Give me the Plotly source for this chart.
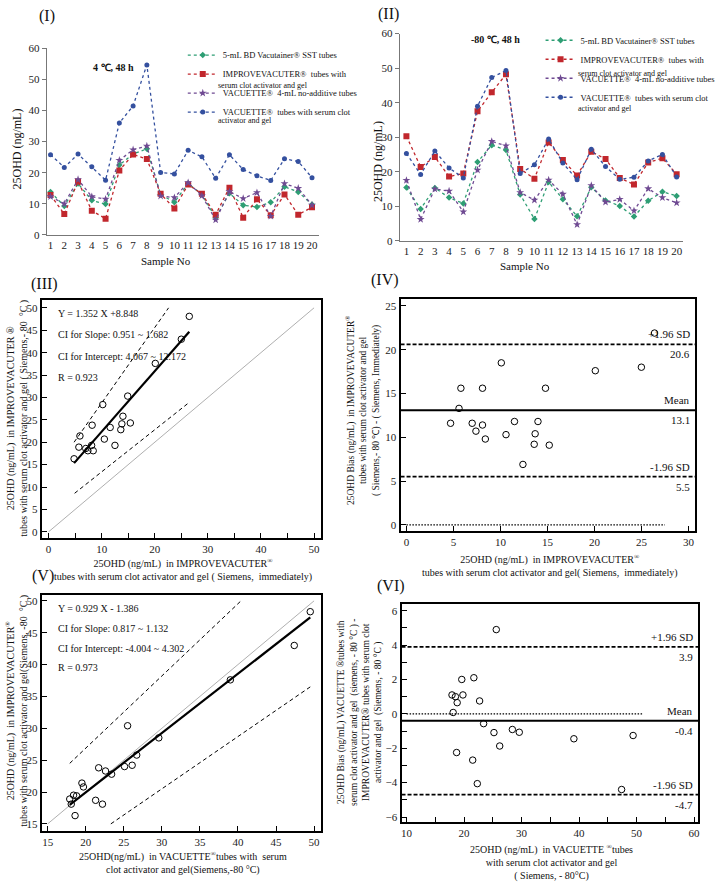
import plotly.graph_objects as go

W, H = 720, 888
SERIF = "Liberation Serif, Times New Roman, serif"

# ---------------- data ----------------
samples = list(range(1, 21))
series_names = [
    "5-mL BD Vacutainer® SST tubes",
    "IMPROVEVACUTER®  tubes with",
    "VACUETTE®  4-mL no-additive tubes",
    "VACUETTE®  tubes with serum clot",
]
series_name_cont = ["", "serum clot activator and gel", "", "activator and gel"]
# Panel I : 4 °C, 48 h
i_bd_sst = [13.8, 9.3, 16.5, 11.1, 9.9, 22.5, 26.0, 27.7, 13.0, 10.5, 16.5, 13.0, 5.5, 13.4, 9.5, 9.0, 10.5, 15.5, 13.8, 9.8]
i_improve = [12.8, 6.7, 17.2, 7.8, 5.2, 20.7, 25.9, 24.4, 13.2, 8.5, 16.2, 13.2, 6.5, 15.2, 5.5, 11.5, 6.3, 13.0, 6.5, 8.9]
i_vac_noadd = [12.3, 10.0, 17.8, 12.3, 11.5, 24.0, 27.4, 28.6, 12.5, 12.0, 16.8, 12.6, 4.8, 13.9, 11.7, 13.6, 6.0, 16.5, 15.0, 9.6]
i_vac_gel = [25.8, 21.7, 26.0, 21.9, 17.6, 36.0, 41.5, 54.7, 20.1, 19.6, 27.2, 25.1, 18.2, 25.8, 21.0, 19.0, 17.5, 24.5, 23.6, 18.4]
# Panel II : -80 °C, 48 h
ii_bd_sst = [15.4, 9.2, 15.3, 12.5, 10.8, 22.8, 27.7, 26.3, 13.4, 6.3, 17.0, 12.0, 7.1, 15.5, 11.7, 10.1, 7.0, 11.6, 14.2, 13.0]
ii_improve = [30.3, 21.4, 24.3, 18.6, 19.5, 37.5, 43.0, 48.2, 20.8, 18.0, 28.5, 23.4, 18.9, 25.8, 23.7, 18.2, 16.3, 22.7, 23.9, 19.3]
ii_vac_noadd = [17.5, 6.2, 15.0, 14.4, 8.4, 20.5, 28.8, 27.5, 14.0, 11.8, 17.6, 13.5, 4.7, 16.0, 11.2, 12.0, 8.7, 15.1, 12.5, 11.0]
ii_vac_gel = [25.3, 19.2, 26.0, 21.1, 18.2, 39.0, 47.3, 49.3, 19.5, 22.0, 29.5, 22.5, 17.7, 26.5, 21.5, 17.8, 18.4, 23.1, 25.0, 18.5]

# Panel III : regression
iii_x = [4.8, 5.7, 5.9, 7.0, 7.4, 8.1, 8.4, 8.2, 10.2, 10.5, 11.6, 12.5, 13.6, 13.8, 14.0, 14.9, 15.4, 20.1, 25.0, 26.5]
iii_y = [16.3, 18.9, 21.4, 18.6, 18.1, 19.3, 18.1, 23.8, 28.4, 20.7, 23.3, 19.3, 22.8, 24.1, 25.8, 30.3, 24.3, 37.6, 43.0, 48.1]
iii_slope, iii_intercept = 1.352, 8.848
iii_fit_x = [4.8, 26.5]
iii_ci_upper_x, iii_ci_upper_y = [4.8, 22.6], [20.0, 50.0]
iii_ci_lower_x, iii_ci_lower_y = [4.9, 26.5], [8.6, 28.9]
iii_identity = [0, 50]
iii_text = ["Y = 1.352 X +8.848", "CI for Slope: 0.951 ~ 1.682",
            "CI for Intercept: 4.067 ~ 12.172", "R = 0.923"]

# Panel IV : Bland-Altman
iv_x = [4.7, 5.6, 5.8, 7.0, 7.4, 8.1, 8.1, 8.4, 10.1, 10.6, 11.5, 12.4, 13.6, 13.7, 14.0, 14.8, 15.2, 20.1, 25.0, 26.4]
iv_y = [11.6, 13.3, 15.6, 11.6, 10.7, 11.4, 15.6, 9.8, 18.5, 10.3, 11.8, 6.9, 9.2, 10.4, 11.8, 15.6, 9.1, 17.6, 18.0, 21.9]
iv_limits = [20.6, 13.1, 5.5]
iv_limit_names = ["+1.96 SD", "Mean", "-1.96 SD"]
iv_zero_span = [0, 27.5]

# Panel V : regression
v_x = [17.9, 18.1, 18.4, 18.8, 18.6, 19.5, 19.7, 21.3, 21.7, 22.2, 22.6, 23.4, 25.1, 26.1, 26.7, 25.5, 29.6, 39.0, 47.4, 49.5]
v_y = [18.9, 18.1, 19.5, 19.4, 16.3, 21.4, 20.8, 18.7, 23.8, 18.1, 23.3, 22.8, 24.0, 24.2, 25.8, 30.4, 28.5, 37.6, 43.0, 48.3]
v_fit_x, v_fit_y = [17.9, 49.5], [18.0, 47.4]
v_ci_upper_x, v_ci_upper_y = [17.9, 40.4], [24.5, 50.0]
v_ci_lower_x, v_ci_lower_y = [23.3, 49.5], [15.0, 36.5]
v_identity = [15, 50]
v_text = ["Y = 0.929 X - 1.386", "CI for Slope: 0.817 ~ 1.132",
          "CI for Intercept: -4.004 ~ 4.302", "R = 0.973"]

# Panel VI : Bland-Altman
vi_x = [25.6, 19.6, 21.7, 17.9, 18.5, 18.8, 19.8, 22.7, 18.1, 23.4, 25.2, 28.4, 29.6, 26.2, 18.7, 21.5, 22.3, 39.1, 49.4, 47.4]
vi_y = [4.9, 2.0, 2.1, 1.1, 1.0, 0.65, 1.1, 0.75, 0.08, -0.57, -1.09, -0.91, -1.07, -1.87, -2.25, -2.69, -4.06, -1.45, -1.26, -4.4]
vi_limits = [3.9, -0.4, -4.7]
vi_limit_names = ["+1.96 SD", "Mean", "-1.96 SD"]
vi_zero_span = [10, 51.2]

# ---------------- helpers ----------------
def px(x):
    return x / W

def py(y):
    return 1 - y / H

colors = ["#2e9e74", "#c1272d", "#6f4a92", "#34509f"]
symbols = ["diamond", "square", "star", "circle"]
msizes = [5, 6, 6, 5]

fig = go.Figure()

# Panels I and II
for data, xa, ya, lg in [([i_bd_sst, i_improve, i_vac_noadd, i_vac_gel], "x", "y", "legend"),
                         ([ii_bd_sst, ii_improve, ii_vac_noadd, ii_vac_gel], "x2", "y2", "legend2")]:
    for k, vals in enumerate(data):
        fig.add_trace(go.Scatter(
            x=samples, y=vals, mode="lines+markers", name=series_names[k],
            line=dict(color=colors[k], width=1.3, dash="dot"),
            marker=dict(color=colors[k], symbol=symbols[k], size=msizes[k]),
            xaxis=xa, yaxis=ya, legend=lg, showlegend=True))

circle = dict(symbol="circle-open", size=6.5, color="black", line=dict(width=1))

def line(x, y, xa, ya, width=1, dash="solid", color="black"):
    fig.add_trace(go.Scatter(x=x, y=y, mode="lines", xaxis=xa, yaxis=ya, showlegend=False,
                             line=dict(color=color, width=width, dash=dash), hoverinfo="skip"))

CI_DASH = "4px,3px"
# Panel III
line(iii_identity, iii_identity, "x3", "y3", width=0.8, color="#9a9a9a")
line(iii_ci_upper_x, iii_ci_upper_y, "x3", "y3", width=1, dash=CI_DASH)
line(iii_ci_lower_x, iii_ci_lower_y, "x3", "y3", width=1, dash=CI_DASH)
line(iii_fit_x, [iii_slope * v + iii_intercept for v in iii_fit_x], "x3", "y3", width=2.2)
fig.add_trace(go.Scatter(x=iii_x, y=iii_y, mode="markers", marker=circle, xaxis="x3", yaxis="y3", showlegend=False))

# Panel IV
line(iv_zero_span, [0, 0], "x4", "y4", width=1.2, dash="1.5px,1.5px")
fig.add_trace(go.Scatter(x=iv_x, y=iv_y, mode="markers", marker=circle, xaxis="x4", yaxis="y4", showlegend=False))

# Panel V
line(v_identity, v_identity, "x5", "y5", width=0.8, color="#9a9a9a")
line(v_ci_upper_x, v_ci_upper_y, "x5", "y5", width=1, dash=CI_DASH)
line(v_ci_lower_x, v_ci_lower_y, "x5", "y5", width=1, dash=CI_DASH)
line(v_fit_x, v_fit_y, "x5", "y5", width=2.2)
fig.add_trace(go.Scatter(x=v_x, y=v_y, mode="markers", marker=circle, xaxis="x5", yaxis="y5", showlegend=False))

# Panel VI
line(vi_zero_span, [0, 0], "x6", "y6", width=1.2, dash="1.5px,1.5px")
fig.add_trace(go.Scatter(x=vi_x, y=vi_y, mode="markers", marker=circle, xaxis="x6", yaxis="y6", showlegend=False))

shapes = []
annotations = []

def ann(text, x, y, size=11, xanchor="center", yanchor="middle", angle=0, bold=False, align="center", **kw):
    if bold:
        text = "<b>" + text + "</b>"
    annotations.append(dict(text=text, x=px(x), y=py(y), xref="paper", yref="paper", showarrow=False,
                            xanchor=xanchor, yanchor=yanchor, textangle=angle, align=align,
                            font=dict(family=SERIF, size=size, color="#111"), **kw))

for vals, names, xa, ya in [(iv_limits, iv_limit_names, "x4", "y4"), (vi_limits, vi_limit_names, "x6", "y6")]:
    for k, v in enumerate(vals):
        shapes.append(dict(type="line", xref=xa + " domain", yref=ya, x0=0, x1=1, y0=v, y1=v,
                           line=dict(color="black", width=2 if k == 1 else 1.8,
                                     dash="solid" if k == 1 else "4px,2px")))
        annotations.append(dict(text=names[k], xref=xa + " domain", yref=ya, x=0.99, y=v, yshift=10,
                                xanchor="right", yanchor="middle", showarrow=False,
                                font=dict(family=SERIF, size=11, color="#111")))
        annotations.append(dict(text=f"{v:.1f}", xref=xa + " domain", yref=ya, x=0.99, y=v, yshift=-10,
                                xanchor="right", yanchor="middle", showarrow=False,
                                font=dict(family=SERIF, size=11, color="#111")))

# continuation lines of the two-line legend entries
LEG_FONT = 8.5
for x0, ys in [(222, [80.5, 116.5]), (592, [68.0, 104.0])]:
    conts = [c for c in series_name_cont if c]
    for t, yy in zip(conts, ys):
        ann(t, x0, yy, size=8, xanchor="left")

# panel labels
ann("(I)", 48, 10, size=16)
ann("(II)", 400, 8, size=16)
ann("(III)", 46, 282, size=16)
ann("(IV)", 396, 278, size=16)
ann("(V)", 44, 578, size=16)
ann("(VI)", 402, 588, size=16)

ann("4 ℃, 48 h", 117, 62, size=10, bold=True)
ann("-80 ℃, 48 h", 510, 34, size=10, bold=True)

# axis titles
ann("25OHD (ng/mL)", 18, 145, size=12, angle=-90)
ann("Sample No", 171, 258, size=11)
ann("25OHD (ng/mL)", 389, 158, size=12, angle=-90)
ann("Sample No", 540, 264, size=11)

ann("25OHD (ng/mL)  in IMPROVEVACUTER ®<br>tubes with serum clot activator and gel ( Siemens,- 80  °C )",
    18, 418, size=10, angle=-90)
ann("25OHD (ng/mL)  in IMPROVEVACUTER<sup>®</sup><br>tubes with serum clot activator and gel ( Siemens,  immediately)",
    188, 572, size=10)
ann("25OHD Bias (ng/mL)  in IMPROVEVACUTER<sup>®</sup><br>tubes with serum clot activator and gel<br>( Siemens,- 80 ℃) - ( Siemens, Immediately)",
    374, 410, size=9.5, angle=-90)
ann("25OHD (ng/mL)  in IMPROVEVACUTER<sup>®</sup><br>tubes with serum clot activator and gel( Siemens,  immediately)",
    566, 568, size=10)
ann("25OHD (ng/mL)  in IMPROVEVACUTER<sup>®</sup><br>tubes with serum clot activator and gel(Siemens, -80  °C )",
    18, 715, size=10, angle=-90)
ann("25OHD(ng/mL)  in VACUETTE<sup>®</sup>tubes with  serum<br>clot activator and gel(Siemens,-80 °C)",
    188, 869, size=10)
ann("25OHD Bias (ng/mL) VACUETTE ®tubes with<br>serum clot activator and gel  (siemens, - 80 °C ) -<br>IMPROVEVACUTER® tubes with serum clot<br>activator and gel  (Siemens, - 80 °C )",
    371, 716, size=9.5, angle=-90)
ann("25OHD (ng/mL)  in VACUETTE <sup>®</sup>tubes<br>with serum clot activator and gel<br>( Siemens, - 80°C)",
    567, 868, size=10)

for k, t in enumerate(iii_text):
    ann(t, 58, 312 + k * 21.5, size=10, xanchor="left")
for k, t in enumerate(v_text):
    ann(t, 58, 611 + k * 20, size=10, xanchor="left")

tickfont = dict(family=SERIF, size=11, color="#222")
plain = dict(showgrid=False, zeroline=False, tickfont=tickfont)
box = dict(showline=True, mirror=True, linewidth=2, linecolor="black", ticks="inside",
           ticklen=5, tickwidth=1, tickcolor="black", **plain)

legend_common = dict(xanchor="left", yanchor="top", bgcolor="rgba(0,0,0,0)",
                     font=dict(family=SERIF, size=LEG_FONT, color="#111"), tracegroupgap=0, itemwidth=30)

fig.update_layout(
    width=W, height=H, autosize=False, margin=dict(l=0, r=0, t=0, b=0),
    paper_bgcolor="white", plot_bgcolor="white",
    legend=dict(x=px(188), y=py(35), **legend_common),
    legend2=dict(x=px(556), y=py(20), **legend_common),
    xaxis=dict(domain=[px(48), px(328)], range=[0.72, 20.5], anchor="y", tickvals=samples,
               showline=True, linecolor="#777", linewidth=1, ticks="", **plain),
    yaxis=dict(domain=[py(232), py(43)], range=[0, 60], anchor="x", dtick=10,
               showline=True, linecolor="#777", linewidth=1, ticks="outside", ticklen=4, tickcolor="#777", **plain),
    xaxis2=dict(domain=[px(411), px(703)], range=[0.52, 20.48], anchor="y2", tickvals=samples,
                showline=True, linecolor="#777", linewidth=1, ticks="", **plain),
    yaxis2=dict(domain=[py(238), py(28)], range=[0, 60], anchor="x2", dtick=10,
                showline=True, linecolor="#777", linewidth=1, ticks="outside", ticklen=4, tickcolor="#777", **plain),
    xaxis3=dict(domain=[px(43), px(330)], range=[-1.28, 51.28], anchor="y3", tick0=0, dtick=10,
                minor=dict(dtick=5, ticks="inside", ticklen=5, tickcolor="black"), **box),
    yaxis3=dict(domain=[py(539), py(298)], range=[-1.32, 51.76], anchor="x3", tick0=0, dtick=5, **box),
    xaxis4=dict(domain=[px(412), px(715)], range=[-0.62, 30.72], anchor="y4", tick0=0, dtick=5, **box),
    yaxis4=dict(domain=[py(532), py(297)], range=[-0.68, 25.79], anchor="x4", tick0=0, dtick=5, **box),
    xaxis5=dict(domain=[px(43), px(330)], range=[14.23, 50.89], anchor="y5", tick0=0, dtick=5, **box),
    yaxis5=dict(domain=[py(836), py(597)], range=[13.93, 50.93], anchor="x5", tick0=0, dtick=5, **box),
    xaxis6=dict(domain=[px(413), px(718)], range=[9.12, 60.7], anchor="y6", tick0=0, dtick=10,
                minor=dict(dtick=5, ticks="inside", ticklen=5, tickcolor="black"), **box),
    yaxis6=dict(domain=[py(827), py(606)], range=[-6.28, 6.4], anchor="x6", tick0=0, dtick=2,
                minor=dict(dtick=1, ticks="inside", ticklen=5, tickcolor="black"), **box),
    shapes=shapes, annotations=annotations,
)

post = """
document.documentElement.style.margin='0px';
document.documentElement.style.overflow='hidden';
document.body.style.margin='0px';
document.body.style.padding='0px';
document.body.style.overflow='hidden';
"""

fig.write_html("out.html", config={"displayModeBar": False, "responsive": False}, post_script=post)
